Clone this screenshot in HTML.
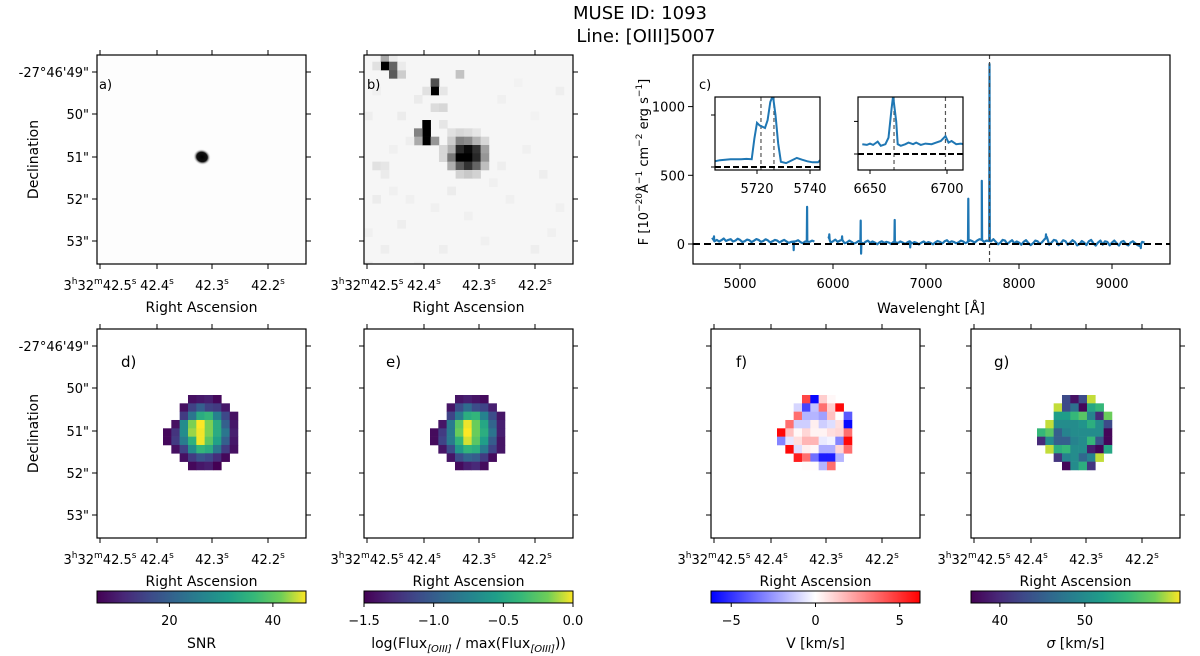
<!DOCTYPE html>
<html><head><meta charset="utf-8"><title>MUSE ID 1093</title>
<style>
body{margin:0;background:#fff;}
svg{display:block;font-family:"DejaVu Sans","Liberation Sans",sans-serif;}
</style></head>
<body>
<svg id="fig" width="1200" height="656" viewBox="0 0 1200 656" xmlns="http://www.w3.org/2000/svg">
<defs>
<linearGradient id="viridis" x1="0" x2="1" y1="0" y2="0">
<stop offset="0" stop-color="#440154"/><stop offset="0.13" stop-color="#482878"/><stop offset="0.25" stop-color="#3e4989"/><stop offset="0.38" stop-color="#31688e"/><stop offset="0.5" stop-color="#26828e"/><stop offset="0.63" stop-color="#1f9e89"/><stop offset="0.75" stop-color="#35b779"/><stop offset="0.88" stop-color="#6ece58"/><stop offset="1" stop-color="#fde725"/>
</linearGradient>
<linearGradient id="bwr" x1="0" x2="1" y1="0" y2="0">
<stop offset="0" stop-color="#0000ff"/><stop offset="0.5" stop-color="#ffffff"/><stop offset="1" stop-color="#ff0000"/>
</linearGradient>
<radialGradient id="blob"><stop offset="0" stop-color="#000"/><stop offset="0.6" stop-color="#111"/><stop offset="1" stop-color="#fff" stop-opacity="0"/></radialGradient>
<clipPath id="clipC"><rect x="693" y="55" width="477" height="209"/></clipPath>
<clipPath id="clipI1"><rect x="715" y="97" width="105" height="73"/></clipPath>
<clipPath id="clipI2"><rect x="858" y="97" width="105" height="73"/></clipPath>
<clipPath id="clipB"><rect x="364" y="55" width="209" height="209"/></clipPath>
</defs>
<text x="640" y="19" font-size="18" text-anchor="middle">MUSE ID: 1093</text>
<text x="646" y="42" font-size="18" text-anchor="middle">Line: [OIII]5007</text>
</svg>
<script>
// ---------- data ----------
const snrGrid = [
 [null,null,null,8,9,10,7,null,null],
 [null,null,8,15,20,15,14,9,null],
 [null,null,14,24,34,36,26,16,8],
 [null,8,28,42,47,42,34,20,9],
 [7,13,28,43,46,42,34,24,10],
 [7,14,25,35,46,40,32,20,9],
 [null,8,15,28,36,34,24,14,8],
 [null,null,8,14,18,16,12,7,null],
 [null,null,null,7,9,10,6,null,null]
];
const fluxGrid = [
 [null,null,null,-1.4,-1.35,-1.4,-1.45,null,null],
 [null,null,-1.4,-1.1,-0.9,-1.1,-1.15,-1.35,null],
 [null,null,-1.15,-0.8,-0.45,-0.4,-0.75,-1.1,-1.4],
 [null,-1.4,-0.8,-0.25,-0.02,-0.2,-0.5,-0.95,-1.35],
 [-1.45,-1.2,-0.8,-0.2,0,-0.2,-0.45,-0.85,-1.35],
 [-1.45,-1.15,-0.8,-0.4,-0.05,-0.25,-0.55,-1.0,-1.4],
 [null,-1.4,-1.1,-0.6,-0.4,-0.45,-0.8,-1.15,-1.4],
 [null,null,-1.4,-1.1,-0.95,-1.0,-1.2,-1.45,null],
 [null,null,null,-1.45,-1.35,-1.3,-1.45,null,null]
];
const velGrid = [
 [null,null,null,4.5,-6,1.2,0.2,null,null],
 [null,null,-1,-4.5,-1.5,3.5,1.2,6,null],
 [null,null,3.5,-1.8,-1.8,-2.3,1.5,0,-4],
 [null,3.5,-1.2,-1.2,0.4,-1.2,-0.8,0.8,-6],
 [6,1.5,0.2,1,0.3,0.3,0.8,1,3.5],
 [-3,-0.6,0.8,1.8,1.8,-0.5,-0.3,-3,6],
 [null,6,-0.8,0.4,0.2,-2,-2,1,3.5],
 [null,null,5.5,3.5,-3.5,-5.5,-5.5,-1.8,null],
 [null,null,null,0.1,0.1,-1.8,3.5,null,null]
];
const sigGrid = [
 [null,null,null,43,38,43,60,null,null],
 [null,null,60,43,47,37,53,55,null],
 [null,null,52,52,55,57,49,40,58],
 [null,60,50,50,50,51,54,50,43],
 [55,57,45,49,50,50,50,50,37],
 [40,50,45,45,49,50,55,44,37],
 [null,60,54,55,50,50,39,37,53],
 [null,null,41,49,50,46,49,60,null],
 [null,null,null,37,50,54,41,null,null]
];
// panel b cells: [col,row,grey]
const bCells = [
 [2,-1,170],[3,-1,235],[2,0,0],[3,0,100],[3,1,90],[4,1,205],[1,0,225],[4,0,235],[11,1,195],[8,2,80],[8,3,0],[7,3,225],[9,3,230],
 [8,5,220],[9,5,215],[6,4,235],[1,3,240],[7,7,0],[7,8,0],[7,9,0],[6,8,130],[6,9,170],[8,9,150],[9,7,230],
 [10,8,225],[11,8,215],[12,8,220],[13,8,230],[10,9,205],[11,9,130],[12,9,140],[13,9,180],[14,9,215],
 [10,10,175],[11,10,40],[12,10,10],[13,10,50],[14,10,160],[9,10,215],
 [9,11,215],[10,11,120],[11,11,0],[12,11,0],[13,11,40],[14,11,150],
 [10,12,175],[11,12,90],[12,12,50],[13,12,100],[14,12,190],[11,13,210],[12,13,200],[13,13,210],
 [1,12,225],[2,12,230],[2,13,235],[3,15,240],[0,20,240],[2,22,238],[5,16,240],[15,14,240],[22,20,240],[18,2,242],[20,6,242],[0,24,235],[6,24,240],
 [0,6,238],[4,6,236],[5,9,238],[3,10,240],[1,16,236],[4,19,238],[8,17,240],[10,15,236],[12,18,240],[16,12,238],[17,16,240],[19,10,240],[21,13,238],[23,17,240],[20,22,238],[14,21,240],[9,22,238],[16,4,240],[23,3,238]
];
// spectrum continuum [wavelength, flux] and narrow lines
const contPts = [[4700,45],[4725,20],[4750,30],[4775,18],[4800,28],[4825,40],[4850,22],[4875,30],[4900,35],[4925,18],[4950,25],[4975,38],[5000,30],[5025,15],[5050,20],[5075,32],[5100,28],[5125,14],[5150,24],[5175,36],[5200,30],[5225,16],[5250,22],[5275,34],[5300,26],[5325,12],[5350,20],[5375,30],[5400,25],[5425,12],[5450,22],[5475,30],[5500,18],[5525,8],[5550,15],[5600,20],[5625,28],[5650,14],[5675,6],[5700,18],[5750,16],[5775,25],[5800,18],
 [5950,55],[5975,10],[6000,20],[6025,32],[6050,15],[6075,25],[6100,30],[6125,5],[6150,12],[6175,25],[6200,15],[6225,3],[6250,10],[6275,22],[6300,12],[6325,2],[6350,15],[6375,25],[6400,8],[6425,18],[6450,10],[6475,-2],[6500,12],[6525,20],[6550,8],[6575,15],[6600,10],[6625,0],[6650,15],[6700,8],[6725,18],[6750,10],[6775,0],[6800,12],[6825,20],[6850,5],[6875,14],[6900,8],[6925,-3],[6950,10],[6975,18],[7000,5],[7025,14],[7050,8],[7075,-2],[7100,12],[7125,22],[7150,15],[7175,4],[7200,20],[7225,28],[7250,10],[7275,20],[7300,15],[7325,5],[7350,12],[7375,25],[7400,18],[7425,6],[7450,15],[7475,28],[7500,20],[7525,10],[7550,25],[7575,35],[7600,30],[7625,15],[7650,25],[7700,20],[7725,35],[7750,15],[7775,-2],[7800,10],[7825,30],[7850,25],[7875,0],[7900,15],[7925,28],[7950,5],[7975,18],[8000,10],[8025,-5],[8050,15],[8075,28],[8100,8],[8125,-8],[8150,5],[8175,25],[8200,20],[8225,0],[8250,15],[8275,35],[8300,50],[8325,-5],[8350,10],[8375,30],[8400,25],[8425,-8],[8450,5],[8475,28],[8500,20],[8525,-5],[8550,10],[8575,28],[8600,15],[8625,-10],[8650,0],[8675,22],[8700,10],[8725,-8],[8750,20],[8775,30],[8800,5],[8825,-12],[8850,10],[8875,25],[8900,-5],[8925,20],[8950,15],[8975,-10],[9000,10],[9025,25],[9050,5],[9075,-12],[9100,15],[9125,22],[9150,0],[9175,-10],[9200,10],[9225,20],[9250,5],[9275,-8],[9300,-15],[9325,15],[9350,10]];
const linePts = [[4720,55],[5577,-45],[5721,270],[5960,70],[6098,55],[6298,170],[6302,-70],[6663,175],[6830,-25],[7455,330],[7600,460],[7683,1310],[8290,70],[9310,-30]];
const gapStart = 5800, gapEnd = 5950;
const specXTicks = [5000,6000,7000,8000,9000];
const specYTicks = [0,500,1000];
const inset1Pts = [[5704,22],[5706,26],[5708,28],[5710,30],[5712,30],[5714,30],[5716,31],[5718,30],[5719,110],[5720,170],[5721,160],[5722,155],[5723,150],[5724,180],[5725,250],[5726,275],[5727,200],[5728,90],[5729,20],[5731,15],[5733,25],[5735,35],[5737,28],[5739,22],[5741,18],[5743,18],[5744,28]];
const inset2Pts = [[6645,30],[6648,28],[6650,32],[6652,28],[6655,38],[6657,25],[6660,30],[6662,50],[6664,140],[6665,178],[6667,100],[6668,30],[6670,25],[6673,30],[6675,35],[6678,30],[6680,35],[6683,28],[6686,32],[6690,30],[6693,35],[6696,40],[6699,55],[6701,35],[6703,40],[6706,30],[6709,32],[6712,28]];
const inset1Ticks = [5720,5740];
const inset2Ticks = [6650,6700];
const inset1Lines = [5721.5,5726.4];
const inset2Lines = [6665.6,6699];
const peakWave = 7683;
const snrCbTicks = [20,40];
const fluxCbTicks = [-1.5,-1.0,-0.5,0.0];
const velCbTicks = [-5,0,5];
const sigCbTicks = [40,50];
const decLabels = ["-27°46'49\"","50\"","51\"","52\"","53\""];

// ---------- helpers ----------
const NS = "http://www.w3.org/2000/svg";
const svg = document.getElementById('fig');
function mk(tag, attrs, parent){
  const e = document.createElementNS(NS, tag);
  for (const k in attrs) e.setAttribute(k, attrs[k]);
  (parent||svg).appendChild(e);
  return e;
}
const VIR = ["#440154","#482878","#3e4989","#31688e","#26828e","#1f9e89","#35b779","#6ece58","#fde725"];
const VIRP = [0,0.13,0.25,0.38,0.5,0.63,0.75,0.88,1];
function hx(c){return [parseInt(c.substr(1,2),16),parseInt(c.substr(3,2),16),parseInt(c.substr(5,2),16)];}
function viridis(t){
  t=Math.max(0,Math.min(1,t));
  for(let i=0;i<VIRP.length-1;i++){
    if(t<=VIRP[i+1]){
      const f=(t-VIRP[i])/(VIRP[i+1]-VIRP[i]);
      const a=hx(VIR[i]),b=hx(VIR[i+1]);
      return 'rgb('+a.map((v,j)=>Math.round(v+(b[j]-v)*f)).join(',')+')';
    }
  }
  return VIR[8];
}
function bwr(t){
  t=Math.max(-1,Math.min(1,t));
  if(t<0){const w=Math.round(255*(1+t));return 'rgb('+w+','+w+',255)';}
  const w=Math.round(255*(1-t));return 'rgb(255,'+w+','+w+')';
}
const RA_OFF=[3,60,115,171];
const RA_LAB=[['3','h','32','m','42.5','s'],['42.4','s'],['42.3','s'],['42.2','s']];
const DEC_OFF=[17,59,102,144,186];

function raLabel(x,y,parts){
  const t=mk('text',{x:x,y:y,'font-size':13,'text-anchor':'middle'});
  
  
  for(let i=0;i<parts.length;i++){
    const sp=mk('tspan',{},t);
    if(i%2===1){sp.setAttribute('font-size','9');sp.setAttribute('dy','-6');}
    else if(i>0){sp.setAttribute('dy','6');}
    sp.textContent=parts[i];
  }
}
function imgAxes(name,L,T,withDec,withDecLabels){
  const W=209,H=209;
  const g=mk('g',{});
  
  
  RA_OFF.forEach((o,i)=>{
    mk('line',{x1:L+o,x2:L+o,y1:T+H,y2:T+H+5,stroke:'#000','stroke-width':1},g);
    mk('line',{x1:L+o,x2:L+o,y1:T,y2:T-5,stroke:'#000','stroke-width':1},g);
    raLabel(L+o,T+H+26,RA_LAB[i]);
  });
  DEC_OFF.forEach((o,i)=>{
    mk('line',{x1:L,x2:L-5,y1:T+o,y2:T+o,stroke:'#000','stroke-width':1},g);
    mk('line',{x1:L+W,x2:L+W+5,y1:T+o,y2:T+o,stroke:'#000','stroke-width':1},g);
    if(withDecLabels){
      const t=mk('text',{x:L-8,y:T+o+5,'font-size':13,'text-anchor':'end'},g);
      
      
      t.textContent=decLabels[i];
    }
  });
  const fr=mk('rect',{x:L,y:T,width:W,height:H,fill:'none',stroke:'#000','stroke-width':1.2},g);
  
  
  const xl=mk('text',{x:L+W/2,y:T+H+48,'font-size':14,'text-anchor':'middle'});
  
  
  xl.textContent='Right Ascension';
  if(withDec){
    const yl=mk('text',{x:0,y:0,'font-size':14,'text-anchor':'middle',transform:'translate(38,'+(T+H/2)+') rotate(-90)'});
    
    
    yl.textContent='Declination';
  }
}
function panelLabel(txt,x,y,fs){
  const t=mk('text',{x:x,y:y,'font-size':fs});
  
  
  t.textContent=txt;
}
const CELL=8.33;
function drawMap(name,L,T,grid,colorOf){
  const g=mk('g',{});
  
  
  grid.forEach((row,r)=>row.forEach((v,c)=>{
    if(v===null) return;
    const rc=mk('rect',{x:(L+66+c*CELL).toFixed(2),y:(T+66+r*CELL).toFixed(2),width:CELL+0.3,height:CELL+0.3,fill:colorOf(v)},g);
    
    
  }));
}
function colorbar(name,L,grad,vmin,vmax,ticks,fmt,label){
  const W=209,T=591,H=12;
  const g=mk('g',{});
  
  
  mk('rect',{x:L,y:T,width:W,height:H,fill:'url(#'+grad+')',stroke:'#000','stroke-width':1},g);
  ticks.forEach(v=>{
    const x=L+(v-vmin)/(vmax-vmin)*W;
    mk('line',{x1:x,x2:x,y1:T+H,y2:T+H+4,stroke:'#000'},g);
    const t=mk('text',{x:x,y:T+H+22,'font-size':13,'text-anchor':'middle'},g);
    
    
    t.textContent=fmt(v);
  });
  const lb=mk('text',{x:L+W/2,y:648,'font-size':14,'text-anchor':'middle'},g);
  
  
  lb.innerHTML=label;
}
const minus=s=>s.replace('-','\u2212');

// ---------- panel a ----------
mk('rect',{x:97,y:55,width:209,height:209,fill:'#fdfdfd'});
const blob=mk('ellipse',{cx:202,cy:157,rx:9,ry:8,fill:'url(#blob)',transform:'rotate(20 202 157)'});


imgAxes('panel-a',97,55,true,true);
panelLabel('a)',99,89,13);

// ---------- panel b ----------
const bL=364,bT=55;
const gb=mk('g',{'clip-path':'url(#clipB)'});


mk('rect',{x:bL,y:bT,width:209,height:209,fill:'#f6f6f6'},gb);
bCells.forEach(c=>{
  const r=mk('rect',{x:(bL+c[0]*CELL).toFixed(2),y:(bT+6.7+c[1]*CELL).toFixed(2),width:CELL+0.3,height:CELL+0.3,fill:'rgb('+c[2]+','+c[2]+','+c[2]+')'},gb);
  
  
});
imgAxes('panel-b',bL,bT,false,false);
panelLabel('b)',367,89,13);

// ---------- panel c (spectrum) ----------
const xS=l=>740+(l-5000)*0.093;
const yS=f=>244-f*0.1374;
const gc=mk('g',{});


const pts=contPts.concat(linePts.flatMap(p=>[[p[0]-3,null],[p[0],p[1]],[p[0]+3,null]])).sort((a,b)=>a[0]-b[0]);
function baseAt(l){
  for(let i=0;i<contPts.length-1;i++){
    if(l>=contPts[i][0]&&l<=contPts[i+1][0]){const a=contPts[i],b=contPts[i+1];return a[1]+(b[1]-a[1])*(l-a[0])/(b[0]-a[0]);}
  }
  return contPts[contPts.length-1][1];
}
let d='',pen=false,prev=null;
pts.forEach(p=>{
  if(p[0]>gapStart&&p[0]<gapEnd){pen=false;prev=p[0];return;}
  if(prev!==null&&prev<=gapStart&&p[0]>=gapEnd) pen=false;
  const f=p[1]===null?baseAt(p[0]):p[1];
  d+=(pen?'L':'M')+xS(p[0]).toFixed(1)+','+yS(f).toFixed(1);
  pen=true;prev=p[0];
});
const gcl=mk('g',{'clip-path':'url(#clipC)'},gc);
const sp=mk('path',{d:d,fill:'none',stroke:'#1f77b4','stroke-width':2.2,'stroke-linejoin':'round'},gcl);


const zl=mk('line',{x1:693,x2:1170,y1:yS(0),y2:yS(0),stroke:'#000','stroke-width':2,'stroke-dasharray':'7,4'},gcl);


const vl=mk('line',{x1:xS(peakWave),x2:xS(peakWave),y1:55,y2:264,stroke:'#444','stroke-width':1.2,'stroke-dasharray':'4,3'},gcl);


mk('rect',{x:693,y:55,width:477,height:209,fill:'none',stroke:'#000','stroke-width':1.2},gc);
specXTicks.forEach(v=>{
  mk('line',{x1:xS(v),x2:xS(v),y1:264,y2:269,stroke:'#000'},gc);
  const t=mk('text',{x:xS(v),y:288,'font-size':13,'text-anchor':'middle'},gc);
  
  
  t.textContent=v;
});
specYTicks.forEach(v=>{
  mk('line',{x1:693,x2:688,y1:yS(v),y2:yS(v),stroke:'#000'},gc);
  const t=mk('text',{x:685,y:yS(v)+5,'font-size':13,'text-anchor':'end'},gc);
  
  
  t.textContent=v;
});
const cx=mk('text',{x:931,y:313,'font-size':14,'text-anchor':'middle'},gc);


cx.textContent='Wavelenght [Å]';
const cy=mk('text',{x:0,y:0,'font-size':13,'text-anchor':'middle',transform:'translate(648,162) rotate(-90)'},gc);


cy.innerHTML='F [10<tspan dy="-6" font-size="9">−20</tspan><tspan dy="6">Å</tspan><tspan dy="-6" font-size="9">−1</tspan><tspan dy="6"> cm</tspan><tspan dy="-6" font-size="9">−2</tspan><tspan dy="6"> erg s</tspan><tspan dy="-6" font-size="9">−1</tspan><tspan dy="6">]</tspan>';
panelLabel('c)',699,89,13);

function inset(name,L,clip,pts,xf,yf,ticks,lines,yticks){
  const g=mk('g',{});
  
  
  mk('rect',{x:L,y:97,width:105,height:73,fill:'#fff'},g);
  const gi=mk('g',{'clip-path':'url(#'+clip+')'},g);
  lines.forEach(l=>{
    const ln=mk('line',{x1:xf(l),x2:xf(l),y1:97,y2:170,stroke:'#555','stroke-width':1.2,'stroke-dasharray':'4,3'},gi);
    
    
  });
  mk('line',{x1:L,x2:L+105,y1:yf(0),y2:yf(0),stroke:'#000','stroke-width':2,'stroke-dasharray':'6,3'},gi);
  const p=mk('path',{d:pts.map((q,i)=>(i?'L':'M')+xf(q[0]).toFixed(1)+','+yf(q[1]).toFixed(1)).join(''),fill:'none',stroke:'#1f77b4','stroke-width':2},gi);
  
  
  mk('rect',{x:L,y:97,width:105,height:73,fill:'none',stroke:'#000','stroke-width':1.2},g);
  ticks.forEach(v=>{
    mk('line',{x1:xf(v),x2:xf(v),y1:170,y2:174,stroke:'#000'},g);
    const t=mk('text',{x:xf(v),y:193,'font-size':13,'text-anchor':'middle'},g);
    
    
    t.textContent=v;
  });
  yticks.forEach(v=>mk('line',{x1:L,x2:L-4,y1:yf(v),y2:yf(v),stroke:'#000'},g));
}
inset('inset-5720',715,'clipI1',inset1Pts,l=>757+(l-5720)*2.65,f=>167-0.26*f,inset1Ticks,inset1Lines,[0,200]);
inset('inset-6663',858,'clipI2',inset2Pts,l=>870+(l-6650)*1.54,f=>154-0.326*f,inset2Ticks,inset2Lines,[0,100]);

// ---------- bottom row ----------
const BT=329;
drawMap('snr-map',97,BT,snrGrid,v=>viridis((v-6)/(46.4-6)));
imgAxes('panel-d',97,BT,true,true);
panelLabel('d)',121,367,15);
drawMap('flux-map',364,BT,fluxGrid,v=>viridis((v+1.5)/1.5));
imgAxes('panel-e',364,BT,false,false);
panelLabel('e)',386,367,15);
drawMap('velocity-map',711,BT,velGrid,v=>bwr(v/6.2));
imgAxes('panel-f',711,BT,false,false);
panelLabel('f)',736,367,15);
drawMap('sigma-map',971,BT,sigGrid,v=>viridis((v-36.6)/(61.2-36.6)));
imgAxes('panel-g',971,BT,false,false);
panelLabel('g)',994,367,15);

colorbar('snr-colorbar',97,'viridis',6,46.4,snrCbTicks,v=>String(v),'SNR');
colorbar('flux-colorbar',364,'viridis',-1.5,0,fluxCbTicks,v=>minus(v.toFixed(1)),'log(Flux<tspan dy="4" font-size="10" font-style="italic">[OIII]</tspan><tspan dy="-4"> / max(Flux</tspan><tspan dy="4" font-size="10" font-style="italic">[OIII]</tspan><tspan dy="-4">))</tspan>');
colorbar('velocity-colorbar',711,'bwr',-6.2,6.2,velCbTicks,v=>minus(String(v)),'V [km/s]');
colorbar('sigma-colorbar',971,'viridis',36.6,61.2,sigCbTicks,v=>String(v),'<tspan font-style="italic">σ</tspan> [km/s]');
</script>
</body></html>
